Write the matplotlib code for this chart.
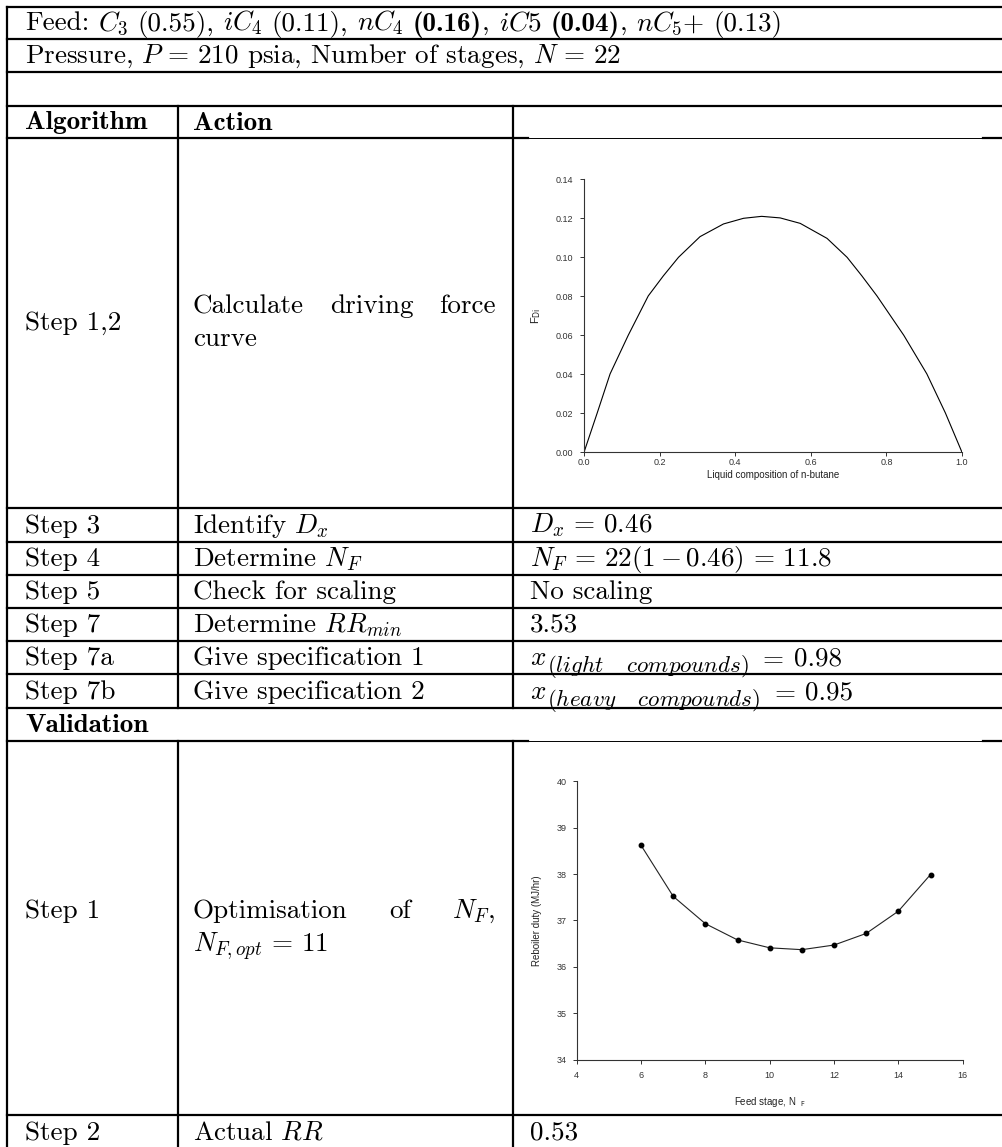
import matplotlib
matplotlib.use("Agg")
import matplotlib.pyplot as plt
from matplotlib.lines import Line2D
from matplotlib.ticker import FormatStrFormatter, MultipleLocator

plt.rcParams['mathtext.fontset'] = 'cm'
plt.rcParams['font.family'] = 'cmr10'
plt.rcParams['axes.unicode_minus'] = False

# driving force curve
comp_nbutane = [0.0, 0.035, 0.069, 0.117, 0.170, 0.210, 0.250, 0.307, 0.369, 0.422, 0.470,
                0.519, 0.572, 0.643, 0.696, 0.735, 0.775, 0.846, 0.907, 0.956, 1.0]
driving_force = [0.0, 0.0202, 0.0402, 0.060, 0.0802, 0.0905, 0.100, 0.1106, 0.1171, 0.1200,
                 0.1210, 0.1202, 0.1174, 0.1097, 0.100, 0.0905, 0.0802, 0.060, 0.0402,
                 0.0202, 0.0]

# reboiler duty vs feed stage
feed_stage = [6, 7, 8, 9, 10, 11, 12, 13, 14, 15]
reboiler_duty = [38.62, 37.52, 36.93, 36.58, 36.41, 36.37, 36.47, 36.72, 37.20, 37.99]

# feed line pieces: (text, bold); " " marks a word gap
feed_parts = [("Feed:", False), (" ", False), (r"$C_3$", False), (" ", False),
              ("(0.55),", False), (" ", False), (r"$iC_4$", False), (" ", False),
              ("(0.11),", False), (" ", False), (r"$nC_4$", False), (" ", False),
              ("(0.16)", True), (",", False), (" ", False), (r"$iC5$", False), (" ", False),
              ("(0.04)", True), (",", False), (" ", False), (r"$nC_5$+", False),
              (" ", False), ("(0.13)", False)]
pressure_text = r"Pressure, $P\,=\,210$ psia, Number of stages, $N\,=\,22$"

steps = ["Step 3", "Step 4", "Step 5", "Step 7", "Step 7a", "Step 7b"]
actions = [r"Identify $D_x$", r"Determine $N_F$", "Check for scaling",
           r"Determine $RR_{min}$", "Give specification 1", "Give specification 2"]
results = [r"$D_x\,=\,0.46$", r"$N_F\,=\,22(1-0.46)\,=\,11.8$", "No scaling", "3.53",
           ("light", "0.98"), ("heavy", "0.95")]

W, H = 1003, 1147
fig = plt.figure(figsize=(W / 100, H / 100), dpi=100)
renderer = fig.canvas.get_renderer()


def fx(x):
    return x / W


def fy(y):
    return 1 - y / H


LW = 1.6


def hline(y, x0=7.3, x1=W, lw=LW):
    fig.add_artist(Line2D([fx(x0), fx(x1)], [fy(y), fy(y)], color='black', lw=lw))


def vline(x, y0, y1, lw=LW):
    fig.add_artist(Line2D([fx(x), fx(x)], [fy(y0), fy(y1)], color='black', lw=lw))


FS = 19.5
SP = 0.333 * FS * 100 / 72
X0, X1, X2 = 25, 193, 530
rows = [6.7, 39.3, 71.7, 106, 138.3, 508, 541.5, 575, 608, 641, 674, 708, 741, 1115]
for y in rows:
    if y in (138.3, 741):
        # the pasted plot image hides most of these borders
        hline(y, 7.3, 528)
        hline(y, 528, 983, lw=0.7)
        hline(y, 983, W)
    else:
        hline(y)
vline(7.3, 6.7, H)
for x in (177.7, 512.7):
    vline(x, 106, 708)
    vline(x, 741, H)


def txt(x, y, s, bold=False, size=FS):
    return fig.text(fx(x), fy(y), s, fontsize=size, va='baseline', ha='left',
                    family='cmb10' if bold else 'cmr10')


def width(t):
    return t.get_window_extent(renderer).width


def runs(parts, x, y):
    for s, bold in parts:
        if s == " ":
            x += SP
            continue
        x += width(txt(x, y, s, bold))


runs(feed_parts, X0, 30.5)
txt(X0, 63, pressure_text)
txt(X0, 129.5, "Algorithm", bold=True)
txt(X1, 129.5, "Action", bold=True)

for i, (s, a, r) in enumerate(zip(steps, actions, results)):
    b = rows[5 + i + 1] - 9
    txt(X0, b, s)
    txt(X1, b, a)
    if isinstance(r, tuple):
        x = X2 + width(txt(X2, b, r"$x$")) + 1
        sub = txt(x, b + 6.5, r"$(%s\quad\,compounds)$" % r[0], size=FS * 0.85)
        x += width(sub) + SP
        x += width(txt(x, b, r"$=$")) + SP
        txt(x, b, r[1])
    else:
        txt(X2, b, r)

txt(X0, 732, "Validation", bold=True)
txt(X0, 1140, "Step 2")
txt(X1, 1140, r"Actual $RR$")
txt(X2, 1140, "0.53")


def justify(words, y, x0=X1, x1=495.7):
    ts = [txt(0, y, w) for w in words]
    ws = [width(t) for t in ts]
    gap = (x1 - x0 - sum(ws)) / (len(ws) - 1)
    x = x0
    for t, w in zip(ts, ws):
        t.set_x(fx(x))
        x += w + gap


LS = 33
c1 = (138.3 + 508) / 2
txt(X0, c1 + 7, "Step 1,2")
justify(["Calculate", "driving", "force"], c1 - 10)
txt(X1, c1 - 10 + LS, "curve")

c2 = (741 + 1115) / 2
txt(X0, c2 - 10, "Step 1")
justify(["Optimisation", "of", r"$N_F$,"], c2 - 10)
txt(X1, c2 - 10 + LS, r"$N_{F,opt}\,=\,11$")


def style_axes(ax, xpad, ypad):
    for side in ('top', 'right'):
        ax.spines[side].set_visible(False)
    for side in ('left', 'bottom'):
        ax.spines[side].set_color('#333333')
        ax.spines[side].set_linewidth(0.8)
    ax.tick_params(direction='out', length=3, width=0.7, colors='#333333',
                   labelsize=6.5, labelfontfamily='Liberation Sans')
    ax.tick_params(axis='x', pad=xpad)
    ax.tick_params(axis='y', pad=ypad)


# plot 1: driving force curve
ax1 = fig.add_axes([fx(584), fy(452.3), fx(962) - fx(584), fy(179.3) - fy(452.3)])
ax1.plot(comp_nbutane, driving_force, color='black', lw=0.8)
ax1.set_xlim(0, 1)
ax1.set_ylim(0, 0.14)
ax1.xaxis.set_major_locator(MultipleLocator(0.2))
ax1.yaxis.set_major_locator(MultipleLocator(0.02))
ax1.xaxis.set_major_formatter(FormatStrFormatter('%.1f'))
ax1.yaxis.set_major_formatter(FormatStrFormatter('%.2f'))
style_axes(ax1, 1, 4.5)
ax1.set_xlabel("Liquid composition of n-butane", fontsize=7, family='Liberation Sans',
               labelpad=2, color='#222222')
ax1.set_ylabel(r"F$_{\rm Di}$", fontsize=8, family='Liberation Sans',
               math_fontfamily='dejavusans', labelpad=9, color='#222222')

# plot 2: reboiler duty vs feed stage
ax2 = fig.add_axes([fx(576.7), fy(1059.6), fx(962.7) - fx(576.7), fy(781.3) - fy(1059.6)])
ax2.plot(feed_stage, reboiler_duty, color='#222222', lw=0.8, marker='o', ms=3.2,
         mfc='black', mec='black')
ax2.set_xlim(4, 16)
ax2.set_ylim(34, 40)
ax2.xaxis.set_major_locator(MultipleLocator(2))
ax2.yaxis.set_major_locator(MultipleLocator(1))
style_axes(ax2, 5, 4)
ax2.set_xlabel(r"Feed stage, N  $_{\rm F}$", fontsize=7, family='Liberation Sans',
               math_fontfamily='dejavusans', labelpad=11, color='#222222')
ax2.set_ylabel("Reboiler duty (MJ/hr)", fontsize=7, family='Liberation Sans',
               labelpad=11, color='#222222')

fig.savefig("out.png", dpi=100)
